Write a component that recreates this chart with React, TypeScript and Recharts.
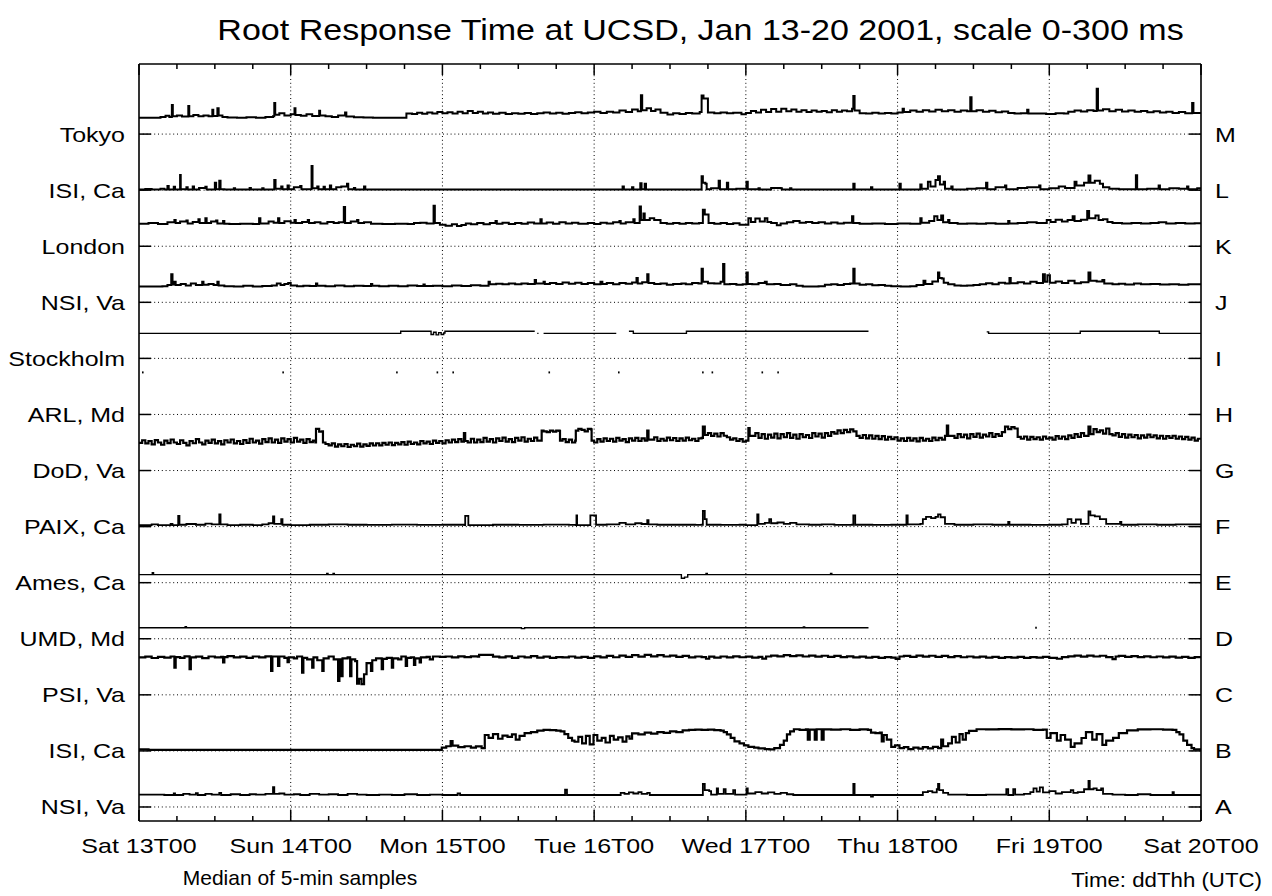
import React from "react";
import { ComposedChart, Line, Scatter, XAxis, YAxis, ReferenceLine } from "recharts";

// ---- axis labels ----
const leftLabels = ["NSI, Va", "ISI, Ca", "PSI, Va", "UMD, Md", "Ames, Ca", "PAIX, Ca", "DoD, Va", "ARL, Md", "Stockholm", "NSI, Va", "London", "ISI, Ca", "Tokyo"];
const rightLabels = ["A", "B", "C", "D", "E", "F", "G", "H", "I", "J", "K", "L", "M"];
const dayLabels = ["Sat 13T00", "Sun 14T00", "Mon 15T00", "Tue 16T00", "Wed 17T00", "Thu 18T00", "Fri 19T00", "Sat 20T00"];
const bandTicks = [1, 2, 3, 4, 5, 6, 7, 8, 9, 10, 11, 12, 13];
const hourTicks = [0, 6, 12, 18, 24, 30, 36, 42, 48, 54, 60, 66, 72, 78, 84, 90, 96, 102, 108, 114, 120, 126, 132, 138, 144, 150, 156, 162, 168];
const dayHours = [24, 48, 72, 96, 120, 144];

// ---- series: [hour since Sat 13T00, median response ms] ----
const tokyoM: [number, number | null][] = [[0,88],[2,88],[3.4,92],[4.2,98],[4.8,92],[5.2,156],[5.35,96],[6,100],[6.8,94],[7.8,150],[7.95,96],[8.6,102],[9.4,95],[10.2,100],[11,95],[11.6,130],[11.75,97],[12.4,138],[12.6,100],[13.2,92],[14,89],[15.5,88],[17,90],[18.5,88],[20,91],[21.2,96],[21.4,167],[21.55,104],[22.2,112],[23,100],[24,106],[24.6,138],[24.75,102],[25.6,98],[26.5,106],[27.4,97],[28.5,125],[28.65,100],[29.5,95],[30.5,92],[31.5,99],[32.6,115],[32.8,94],[34,90],[35.5,89],[37,88],[42.2,88],[42.3,110],[43.2,108],[44,114],[44.8,109],[45.6,116],[46.4,110],[47.2,118],[48,111],[48.8,117],[49.6,110],[50.4,120],[51.2,112],[52,124],[52.8,113],[53.6,120],[54.4,110],[55.2,116],[56,109],[57,114],[58,108],[59,112],[60,109],[61,113],[62,108],[63,112],[64,116],[65,110],[66,114],[67,109],[68,113],[69,117],[70,111],[71,115],[72,119],[73,113],[74,120],[75,115],[76,126],[77,118],[78,132],[78.9,122],[79.4,208],[79.6,128],[80.3,138],[81,124],[81.7,132],[82.5,114],[83.6,105],[84.5,111],[85.5,108],[86.5,113],[87.5,110],[88.7,118],[89,206],[89.3,191],[89.8,191],[90,116],[91,112],[92,116],[93,111],[94,114],[95.3,106],[96,113],[96.8,124],[97.6,116],[98.4,130],[99.2,118],[100,134],[100.8,120],[101.6,136],[102.4,122],[103.2,132],[104,120],[104.8,128],[105.6,118],[106.4,126],[107.2,119],[108,124],[108.8,117],[109.6,128],[110.4,120],[111.2,126],[112,122],[112.8,136],[113,204],[113.2,126],[114,112],[115,110],[116,114],[117,110],[118,113],[119,110],[120,115],[120.8,135],[121,118],[122,126],[123,119],[124,128],[125,121],[126,130],[127,122],[128,127],[129,120],[130,126],[131,122],[131.5,197],[131.7,122],[132.5,128],[133.5,119],[134.5,125],[135.5,117],[136.5,121],[137.5,113],[138.5,110],[139.5,111],[140.5,130],[140.7,110],[142,110],[143.5,108],[145,111],[146.3,110],[147,120],[148,126],[149,121],[150,128],[151,123],[151.5,242],[151.7,126],[152.5,133],[153.5,122],[154.5,130],[155.5,121],[156.5,126],[157.5,119],[158.5,124],[159.5,117],[160.5,122],[161.5,115],[162.5,120],[163.5,113],[164.5,118],[165.5,111],[166.6,167],[166.8,113],[168,110]];

const isiL: [number, number | null][] = [[0,3],[1,6],[2,3],[3.4,8],[4,3],[4.5,22],[4.7,3],[5.5,18],[5.7,3],[6.5,81],[6.6,5],[7.5,15],[7.7,3],[8.5,20],[8.7,3],[9.5,12],[10.5,18],[10.7,3],[12,40],[12.2,5],[12.7,50],[12.9,5],[13.5,3],[15,10],[15.2,3],[17.5,12],[17.7,3],[19.5,10],[19.7,3],[21.4,55],[21.6,8],[22.5,20],[22.7,5],[23.5,25],[23.7,5],[24.5,15],[25.5,22],[25.7,5],[27.3,129],[27.45,10],[28.2,20],[28.4,5],[29.2,18],[29.4,5],[30.2,25],[30.4,5],[31.2,15],[32,20],[32.9,35],[33.1,5],[34,12],[34.2,3],[35.6,20],[35.8,3],[37,3],[76,3],[76.5,20],[76.7,3],[78,15],[78.2,3],[79.3,37],[79.5,5],[80,35],[80.2,3],[88.5,3],[89,75],[89.2,40],[89.6,35],[89.8,5],[90.5,10],[91.7,50],[91.9,5],[93,40],[93.2,5],[94.5,8],[96.1,45],[96.3,5],[98,10],[98.2,3],[100,12],[101.5,10],[101.7,3],[103,10],[103.2,3],[106,3],[113,35],[113.2,3],[115.8,15],[116,3],[120.3,35],[120.5,3],[123.6,30],[123.8,8],[124.8,45],[125.2,20],[126,55],[126.4,75],[126.7,30],[127.3,45],[127.5,8],[128.5,20],[128.7,3],[131,8],[132.5,10],[134,40],[134.2,5],[135.5,15],[137,25],[137.2,5],[139,12],[140.5,15],[142.4,25],[142.6,5],[144,10],[145.5,20],[146.5,12],[148,45],[148.3,25],[149.5,40],[150.2,78],[150.5,40],[151.2,50],[152,35],[152.5,15],[153.5,8],[155,5],[157.7,80],[157.9,5],[159.5,8],[161.3,25],[161.5,5],[163,10],[164.5,8],[165.8,20],[166,5],[167.4,10],[168,3]];

const londonK: [number, number | null][] = [[0,120],[1.5,124],[3,119],[4.5,128],[5.6,140],[5.8,124],[6.5,132],[7.5,138],[7.7,122],[8.5,130],[9.4,145],[9.6,124],[10.5,150],[10.7,124],[11.4,132],[12.2,138],[12.4,122],[13.3,135],[13.5,120],[14.3,119],[16,120],[18,119],[19,150],[19.2,122],[20.5,132],[21.3,126],[22,150],[22.2,124],[23,134],[24,126],[24.6,140],[24.8,124],[25.8,130],[26.7,140],[26.9,124],[27.8,128],[28.7,122],[29.8,130],[30.8,124],[31.6,128],[32.4,210],[32.6,124],[33.5,132],[34.5,140],[34.7,124],[35.6,128],[36.7,120],[38.5,119],[40.5,120],[42.5,119],[43.5,124],[44.5,126],[45.5,122],[46.6,216],[46.8,124],[47.6,115],[48.5,110],[49.5,118],[50.3,108],[51,114],[51.7,122],[52.5,118],[53.5,124],[54.5,118],[55.5,124],[56.4,135],[56.6,120],[57.5,126],[58.5,119],[59.5,125],[60.5,120],[61.5,127],[62.5,121],[63.5,145],[63.7,122],[64.5,127],[65.5,120],[66.5,128],[67.5,121],[68.5,126],[69.5,120],[71,125],[72,119],[73,126],[74,121],[75,128],[76,135],[76.2,122],[77,128],[78.2,145],[78.4,125],[79.2,212],[79.4,140],[79.8,175],[80,140],[80.8,150],[81.5,140],[82.5,125],[83.5,120],[84.5,124],[85.5,120],[86.5,125],[87.5,121],[88.6,125],[89.2,195],[89.5,170],[89.9,170],[90.1,125],[91,120],[92,124],[93,119],[94,123],[95,115],[95.8,115],[96.4,150],[96.8,130],[97.5,148],[98.2,132],[99,150],[99.4,130],[100,124],[100.9,112],[101.5,122],[102.5,128],[103.5,135],[104.5,126],[105.5,130],[106.5,124],[107.5,128],[108.5,122],[109.5,127],[110.5,121],[111.5,126],[112.8,161],[113,124],[114,120],[116,121],[118,119],[120,121],[122,120],[123.6,150],[123.8,126],[125,135],[125.8,160],[126.3,140],[126.9,165],[127.2,128],[128,140],[128.2,124],[129.5,120],[131,122],[132.5,120],[134,123],[135.5,120],[137.5,135],[137.7,122],[139,124],[140.5,128],[142,125],[143.6,140],[144.2,130],[145,142],[146,132],[146.9,140],[147.7,160],[148,135],[149,142],[150,189],[150.3,150],[151.3,165],[151.8,140],[152.5,145],[153.2,130],[154,125],[155.5,122],[157,125],[158.5,121],[160,124],[161.3,128],[162.5,122],[164,125],[165.5,121],[167,123],[168,120]];

const nsiJ: [number, number | null][] = [[0,85],[3.7,86],[4.5,92],[5.1,150],[5.3,95],[5.6,110],[5.8,92],[6.6,98],[7.4,90],[8.2,100],[9,92],[10,110],[10.2,94],[11,98],[11.8,92],[12.4,110],[12.6,90],[13.5,86],[15,85],[16.5,88],[18,85],[19.5,87],[21,90],[21.8,100],[22.4,92],[23,98],[23.6,104],[24,90],[25,86],[26,89],[27,87],[28,100],[28.2,88],[29.5,86],[31,90],[32.5,86],[34,89],[35.5,87],[36.7,98],[36.9,88],[38,86],[39.5,89],[41,86],[42.5,90],[44,87],[45,95],[45.2,87],[46.5,89],[48,86],[49.5,90],[51,87],[52.5,91],[54,88],[55.3,110],[55.5,96],[56.5,99],[57.5,96],[58.5,100],[59.5,97],[60.5,101],[61.5,98],[62.6,120],[62.8,100],[64,110],[64.2,98],[65,104],[66,98],[67,106],[68,99],[69,105],[70,98],[71,103],[72,97],[73,110],[73.3,98],[74,103],[75,97],[76,104],[77,99],[78,106],[78.7,130],[78.9,100],[79.6,108],[80.4,150],[80.6,104],[81.5,98],[82.5,100],[83.5,94],[84.5,98],[85.8,100],[86.5,96],[87.5,104],[88.5,100],[89,180],[89.2,110],[90,102],[91,100],[92,110],[92.4,205],[92.6,96],[93.5,98],[94.5,94],[95.5,96],[96.1,160],[96.3,98],[97,96],[98,104],[99,110],[99.3,96],[100.5,98],[101.5,92],[103,96],[104,88],[105,85],[106,85],[107.5,86],[108.5,94],[109.5,96],[110.5,93],[111.5,98],[112.5,100],[113,180],[113.2,100],[114,94],[115,96],[116,91],[117,93],[118,88],[119,86],[120.5,85],[122,86],[123,92],[124.1,115],[124.4,98],[125.5,112],[126.4,160],[126.6,130],[127,128],[127.3,105],[128,96],[129,90],[130,88],[131,90],[132,93],[133,96],[134,102],[135,96],[136,105],[137,100],[137.7,130],[137.9,102],[139,108],[140,100],[141,110],[142,104],[143,150],[143.3,110],[143.7,145],[144.1,105],[145,112],[146,104],[147,115],[148,102],[149,108],[150.2,160],[150.5,115],[151.5,112],[152.4,120],[152.7,100],[154,96],[155,99],[156,95],[157.4,100],[158.5,96],[160,98],[161.5,95],[163,97],[164.5,94],[166,96],[168,92]];

const stockholmI: [number, number | null][] = [[0,134],[41.4,134],[41.4,145],[46,145],[46.2,128],[46.6,140],[47,126],[47.4,138],[47.8,127],[48.2,136],[48.4,145],[62.6,145],[62.7,null],[63,134],[63.2,134],[63.3,null],[64,134],[75.5,134],[75.6,null],[77.5,145],[78,145],[78.2,134],[86.1,134],[86.6,145],[115.4,145],[115.5,null],[134.1,142],[134.4,134],[148.8,134],[148.9,145],[161.3,145],[161.4,134],[168,134]];

const arlH: [number, number][] = [[0.6,225],[22.8,225],[40.8,225],[47.2,225],[49.7,225],[64.9,225],[75.9,225],[89.2,225],[90.7,225],[98.6,225],[101.1,225]];

const dodG: [number, number | null][] = [[0,148],[0.5,162],[1,145],[1.5,158],[2,140],[2.5,163],[3,150],[3.5,138],[4,160],[4.5,147],[5,166],[5.5,150],[6,142],[6.5,162],[7,148],[7.5,135],[8,158],[8.5,146],[9,168],[9.5,150],[10,140],[10.5,160],[11,148],[11.5,165],[12,145],[12.5,157],[13,140],[13.5,162],[14,150],[14.5,166],[15,145],[15.5,158],[16,142],[16.5,163],[17,148],[17.5,170],[18,150],[18.5,160],[19,144],[19.5,168],[20,152],[20.5,172],[21,150],[21.5,165],[22,148],[22.5,172],[23,155],[23.5,168],[24,150],[24.5,175],[25,155],[25.5,165],[26,148],[26.5,168],[27,152],[27.5,160],[27.9,150],[28,223],[28.5,208],[29,210],[29.1,150],[29.5,142],[30,135],[30.5,145],[31,128],[31.5,140],[32,130],[32.5,142],[33,126],[33.5,138],[34,130],[34.5,144],[35,128],[35.5,140],[36,132],[36.5,145],[37,134],[37.5,146],[38,135],[38.5,148],[39,138],[39.5,150],[40,136],[40.5,148],[41,140],[41.5,152],[42,138],[42.5,155],[43,142],[43.5,150],[44,140],[44.5,158],[45,145],[45.5,155],[46,142],[46.5,160],[47,148],[47.5,158],[48,145],[48.5,162],[49,150],[49.5,165],[50,152],[50.5,168],[51,155],[51.4,200],[51.6,158],[52,150],[52.5,170],[53,150],[53.5,165],[54,152],[54.5,175],[55,155],[55.5,168],[56,150],[56.5,172],[57,158],[57.5,176],[58,155],[58.5,168],[59,152],[59.5,175],[60,160],[60.5,178],[61,155],[61.5,170],[62,158],[62.5,176],[63,160],[63.6,160],[63.7,214],[64,210],[64.5,205],[65,214],[65.5,208],[66,214],[66.5,212],[66.6,160],[67,168],[67.5,152],[68,165],[68.5,150],[69,160],[69.1,214],[69.5,223],[70,218],[70.5,210],[71,223],[71.5,220],[71.6,160],[72,150],[72.5,168],[73,155],[73.5,172],[74,158],[74.5,170],[75,155],[75.5,175],[76,160],[76.5,168],[77,152],[77.5,172],[78,160],[78.5,175],[79,158],[79.5,172],[80,160],[80.4,214],[80.6,165],[81,165],[81.5,178],[82,158],[82.5,170],[83,160],[83.5,176],[84,162],[84.5,174],[85,158],[85.5,172],[86,160],[86.5,176],[87,162],[87.5,170],[88,158],[88.5,172],[89,175],[89.2,235],[89.5,190],[90,200],[90.5,185],[91,198],[91.5,182],[92,200],[92.5,186],[93,178],[93.5,165],[94,172],[94.5,158],[95,168],[95.5,155],[96,160],[96.4,227],[96.6,185],[97,185],[97.5,200],[98,175],[98.5,195],[99,170],[99.5,192],[100,176],[100.5,198],[101,172],[101.5,195],[102,178],[102.5,200],[103,175],[103.5,192],[104,170],[104.5,195],[105,178],[105.5,190],[106,174],[106.5,200],[107,182],[107.5,198],[108,176],[108.5,200],[109,185],[109.5,205],[110,198],[110.5,215],[111,200],[111.5,218],[112,205],[112.5,220],[113,210],[113.5,185],[114,175],[114.5,190],[115,172],[115.5,188],[116,170],[116.5,185],[117,168],[117.5,184],[118,165],[118.5,180],[119,168],[119.5,178],[120,160],[120.5,172],[121,158],[121.5,175],[122,160],[122.5,172],[123,156],[123.5,175],[124,160],[124.5,170],[125,158],[125.5,176],[126,162],[126.5,175],[127,165],[127.5,185],[127.8,240],[128,185],[128.5,185],[129,175],[129.5,195],[130,178],[130.5,192],[131,172],[131.5,195],[132,180],[132.5,198],[133,176],[133.5,192],[134,182],[134.5,200],[135,180],[135.5,195],[136,185],[136.5,205],[137,235],[137.5,222],[138,232],[138.5,225],[139,180],[139.5,170],[140,182],[140.5,165],[141,180],[141.5,168],[142,178],[142.5,165],[143,182],[143.5,170],[144,176],[144.5,165],[145,184],[145.5,170],[146,182],[146.5,168],[147,188],[147.5,175],[148,195],[148.5,180],[149,200],[149.5,185],[150.2,235],[150.5,195],[151,222],[151.5,205],[152,215],[152.5,198],[153,225],[153.5,195],[154,188],[154.5,200],[155,180],[155.5,195],[156,176],[156.5,192],[157,178],[157.5,190],[158,172],[158.5,188],[159,176],[159.5,192],[160,178],[160.5,188],[161,172],[161.5,186],[162,170],[162.5,184],[163,175],[163.5,186],[164,170],[164.5,182],[165,168],[165.5,180],[166,165],[166.5,176],[167,160],[167.5,170],[168,165]];

const paixF: [number, number | null][] = [[0,8],[2,12],[3,8],[5,15],[5.3,8],[6.2,57],[6.4,10],[7.5,14],[9,10],[10.5,16],[11.5,12],[12.7,65],[12.9,12],[14,8],[16,10],[18,8],[19.5,12],[20.5,18],[21.2,55],[21.4,15],[22.5,40],[22.7,10],[24,8],[27,10],[30,12],[33,10],[36,9],[40,11],[44,9],[48,10],[51.5,8],[51.6,57],[52,57],[52.1,8],[56,10],[60,9],[64,11],[68,9],[69.1,8],[69.2,60],[69.3,8],[71.3,8],[71.4,60],[72.2,60],[72.3,10],[74,12],[76,20],[77,12],[78.5,18],[79.5,14],[80.4,35],[80.6,12],[82,10],[85,10],[88,9],[89,10],[89.2,84],[89.5,40],[89.8,10],[92,9],[95,10],[96,8],[97.8,66],[98,15],[99,20],[99.7,40],[100,18],[101,22],[102,15],[103,20],[104,12],[106,10],[108,12],[110,9],[112.8,10],[113,60],[113.3,10],[116,9],[119,10],[121.2,10],[121.4,60],[121.6,12],[123.6,15],[124,40],[124.5,52],[125.3,45],[126,52],[126.4,66],[126.8,50],[127.5,15],[129,10],[132,12],[135,10],[137.5,25],[137.7,10],[141,9],[144,10],[146,12],[146.9,40],[147.5,20],[148.2,38],[149,15],[150.2,81],[150.5,60],[151.2,55],[152,40],[153,15],[155.2,25],[155.4,10],[158,12],[161,10],[164,12],[168,10]];

const amesE: [number, number | null][] = [[0,43],[2,43],[2.1,54],[2.3,43],[29.6,43],[29.7,50],[29.9,43],[30.6,43],[30.7,50],[30.9,43],[85.6,43],[85.8,24],[86.3,30],[86.8,43],[89.6,43],[89.7,50],[89.9,43],[109.3,43],[109.4,50],[109.6,43],[168,43]];

const umdD: [number, number | null][] = [[0,59],[7.2,59],[7.3,65],[7.5,59],[60.2,59],[60.5,54],[61,59],[105,59],[105.1,63],[105.3,59],[115.4,59]];
const umdDots: [number, number][] = [[141.9,59]];

const psiC: [number, number | null][] = [[0,200],[1,204],[2,197],[3,203],[4,199],[5,205],[5.6,146],[5.8,202],[6.5,198],[7.2,206],[8,137],[8.2,200],[9,204],[10,196],[11,205],[12,200],[13,203],[13.3,173],[13.5,202],[14,207],[15,200],[16,204],[17,198],[18,205],[19,200],[20,206],[20.9,128],[21.1,205],[22,155],[22.2,205],[23,198],[23.5,175],[23.7,200],[24.5,195],[25,205],[25.8,119],[26,198],[26.6,190],[27.4,146],[27.6,200],[28.2,185],[29,128],[29.2,195],[30,205],[30.8,190],[31.5,75],[31.7,190],[32,100],[32.2,195],[33,200],[33.4,100],[33.6,190],[34.2,180],[34.5,60],[34.8,85],[35.2,57],[35.6,110],[36,170],[36.7,128],[36.9,185],[37.5,195],[38.4,137],[38.6,192],[39.2,198],[40,146],[40.2,195],[41,190],[41.5,205],[42.2,155],[42.4,198],[43,200],[43.5,160],[43.7,195],[44.4,173],[44.6,200],[45.5,203],[46,190],[46.5,205],[47.6,203],[48.5,205],[49.5,200],[50.5,206],[51.5,202],[52.5,206],[53.6,204],[53.8,214],[55.8,214],[56,204],[57,200],[58,206],[59,198],[60,205],[61,200],[62,207],[63,199],[64,204],[65,198],[66,202],[67,200],[68,205],[69,199],[70,203],[71,198],[72,206],[73,200],[74,208],[75,201],[76,210],[77,203],[78,212],[79,204],[80,214],[81,206],[82,212],[83,205],[84,210],[85,203],[86,208],[87,200],[88,205],[89,202],[89.7,193],[90.2,204],[91,199],[92,205],[93,200],[94,206],[95,201],[96,204],[97,199],[98,203],[98.6,194],[99.2,205],[100,210],[101,206],[102,212],[103,207],[104,211],[105,205],[106,210],[107,204],[108,209],[109,203],[110,208],[111,202],[112,206],[113,200],[114,204],[115,199],[116,203],[117,198],[118,202],[119,199],[119.7,192],[120.3,205],[121,208],[122,203],[123,210],[124,204],[125,209],[126,203],[127,208],[128,202],[129,207],[130,201],[131,205],[132,200],[133,204],[134,199],[135,203],[136,198],[137,202],[138,199],[139,203],[140,198],[141,202],[142,199],[143,203],[144,198],[145.2,193],[146,202],[147,206],[148,210],[149,204],[150,210],[151,205],[152,209],[153,202],[154,191],[154.5,205],[155,208],[156,203],[157,207],[158,202],[159,206],[160,201],[161,205],[162,200],[163,204],[164,199],[165,203],[166,198],[167,202],[168,200]];

const isiB: [number, number | null][] = [[0,8],[1.5,6],[3,5],[47.6,5],[47.9,18],[48.6,25],[49.3,53],[49.6,28],[50.5,20],[51.5,25],[52.5,18],[53.3,24],[54.2,15],[54.7,85],[55.3,70],[56,90],[56.8,65],[57.5,82],[58.3,75],[59,88],[59.6,60],[60.2,80],[61,95],[62,100],[63,108],[64,112],[65,111],[66,108],[66.7,105],[67.3,90],[67.9,70],[68.5,55],[68.9,49],[69.5,75],[70.1,40],[70.7,80],[71.3,35],[71.9,85],[72.5,55],[73.2,70],[73.8,45],[74.5,80],[75.1,60],[75.8,72],[76.5,50],[77.1,78],[77.6,65],[78,94],[79,88],[80,98],[81,92],[82,100],[83,96],[84,104],[85,100],[86,110],[87,113],[88,114],[89,112],[90,114],[91,111],[92,108],[92.5,100],[93,88],[93.6,70],[94.2,51],[95,40],[95.7,30],[96.4,22],[97.3,18],[98,14],[99,10],[99.7,8],[100.5,15],[101.4,32],[102,55],[102.5,88],[103,105],[103.6,116],[104.5,112],[105.5,116],[105.8,60],[106.1,114],[106.9,60],[107.2,116],[108,60],[108.3,115],[109.5,114],[111,116],[112.5,113],[114,115],[115.3,112],[115.8,98],[116.5,95],[117.2,98],[117.5,51],[117.8,85],[118.3,60],[119,22],[119.6,30],[120.3,15],[121,20],[121.7,10],[122.5,18],[123.3,12],[124,20],[124.8,14],[125.6,22],[126.4,15],[126.9,60],[127.2,25],[128,40],[128.6,75],[129.2,45],[129.8,90],[130.3,60],[130.8,95],[131.3,107],[132.5,116],[134,115],[136,117],[138,115],[140,116],[141.5,112],[143,114],[143.6,69],[144.2,95],[145.2,55],[145.8,85],[146.5,60],[147.4,22],[148,40],[149.1,69],[149.8,100],[150.8,60],[151.5,90],[152.4,32],[153,55],[154.1,70],[155,95],[156.3,110],[158,115],[160,116],[162,114],[163.5,112],[164.1,100],[164.6,88],[165.2,55],[165.8,32],[166.5,15],[166.9,8],[168,8]];

const nsiA: [number, number | null][] = [[0,66],[4,64],[5.5,72],[5.7,64],[7,70],[8,66],[9,74],[9.3,64],[10.5,70],[11.5,66],[12.7,75],[13,64],[14.5,68],[16,64],[17.5,68],[18.5,66],[20,70],[21.2,106],[21.4,70],[22.2,72],[23,66],[24.5,68],[25.5,64],[27,70],[28.5,66],[30,68],[31.5,64],[33,70],[34.5,66],[36,64],[38,66],[40,64],[42,68],[44,64],[46,66],[48,64],[50.4,72],[50.8,64],[67,64],[67.4,93],[67.7,64],[75.5,64],[76.2,75],[76.8,70],[77.5,78],[78.2,72],[79,80],[79.5,70],[80.4,75],[80.8,64],[88.8,64],[89.2,124],[89.5,90],[90.2,85],[90.5,66],[91.4,100],[91.6,70],[92.5,95],[92.8,70],[94,90],[94.3,66],[96.1,100],[96.3,72],[97.5,80],[98.5,72],[99.5,78],[100.5,70],[101.5,75],[102.5,68],[103.5,64],[112.8,64],[113,124],[113.2,64],[115.5,64],[115.8,55],[116.1,64],[123.5,64],[124,80],[124.8,85],[125.5,78],[126.2,95],[126.4,124],[126.6,90],[127.2,75],[128,66],[131,64],[134,66],[137.2,95],[137.5,64],[138.3,95],[138.6,66],[140,70],[141,80],[141.5,100],[142,82],[142.5,105],[143,78],[144,85],[145,72],[146,80],[147.4,90],[147.8,75],[148.5,80],[149.5,95],[150.2,139],[150.4,95],[151,100],[151.5,90],[152.2,100],[152.5,70],[154,66],[156,64],[158,68],[160,64],[163.5,80],[163.7,64],[166,64],[168,64]];

// each band (gridline) spans 0-300 ms
const toPts = (arr: [number, number | null][], band: number) =>
  arr.map(([h, ms]) => ({ h, v: ms === null ? null : band + ms / 300 }));

const series = [
  { band: 13, data: tokyoM, w: 2, t: "stepAfter" },
  { band: 12, data: isiL, w: 2, t: "stepAfter" },
  { band: 11, data: londonK, w: 2, t: "stepAfter" },
  { band: 10, data: nsiJ, w: 2, t: "stepAfter" },
  { band: 9, data: stockholmI, w: 1.4, t: "stepAfter" },
  { band: 7, data: dodG, w: 2.2, t: "stepAfter" },
  { band: 6, data: paixF, w: 1.8, t: "stepAfter" },
  { band: 5, data: amesE, w: 1.4, t: "stepAfter" },
  { band: 4, data: umdD, w: 1.4, t: "stepAfter" },
  { band: 3, data: psiC, w: 2.2, t: "stepAfter" },
  { band: 2, data: isiB, w: 2.2, t: "stepAfter" },
  { band: 1, data: nsiA, w: 1.8, t: "stepAfter" },
];

const FONT = "'Liberation Sans', Arial, Helvetica, sans-serif";
const FS = 21;
const SX = 1.19;

const LeftTick = (props: any) => {
  const { x, y, payload } = props;
  return (
    <g>
      <line x1={x} y1={y} x2={x + 12} y2={y} stroke="#000" strokeWidth={1.5} />
      <text transform={`translate(${x - 14},${y + 7.5}) scale(${SX},1)`} textAnchor="end" fontFamily={FONT} fontSize={FS} fill="#000">
        {leftLabels[payload.value - 1]}
      </text>
    </g>
  );
};

const RightTick = (props: any) => {
  const { x, y, payload } = props;
  return (
    <g>
      <line x1={x} y1={y} x2={x - 12} y2={y} stroke="#000" strokeWidth={1.5} />
      <text transform={`translate(${x + 14},${y + 7.5}) scale(${SX},1)`} textAnchor="start" fontFamily={FONT} fontSize={FS} fill="#000">
        {rightLabels[payload.value - 1]}
      </text>
    </g>
  );
};

const BottomTick = (props: any) => {
  const { x, y, payload } = props;
  const major = payload.value % 24 === 0;
  return (
    <g>
      <line x1={x} y1={y} x2={x} y2={y - (major ? 11 : 5)} stroke="#000" strokeWidth={1.5} />
      {major && (
        <text transform={`translate(${x},${y + 32}) scale(${SX},1)`} textAnchor="middle" fontFamily={FONT} fontSize={FS} fill="#000">
          {dayLabels[payload.value / 24]}
        </text>
      )}
    </g>
  );
};

const TopTick = (props: any) => {
  const { x, y, payload } = props;
  const major = payload.value % 24 === 0;
  return <line x1={x} y1={y} x2={x} y2={y + (major ? 11 : 5)} stroke="#000" strokeWidth={1.5} />;
};

const TinyDot = (props: any) => {
  const { cx, cy } = props;
  if (cx == null || cy == null) return null;
  return <rect x={cx - 0.8} y={cy - 1} width={1.6} height={2} fill="#000" />;
};

const W = 1264;
const H = 888;

export default function App() {
  return (
    <div style={{ position: "relative", width: W, height: H }}>
      <ComposedChart width={W} height={H} margin={{ top: 55, right: 0, bottom: 0, left: 0 }}>
        <XAxis xAxisId="b" dataKey="h" type="number" domain={[0, 168]} ticks={hourTicks} interval={0} tickSize={0} tickMargin={0} tick={<BottomTick />} height={75} axisLine={{ stroke: "#000", strokeWidth: 1.6 }} tickLine={false} allowDataOverflow />
        <XAxis xAxisId="t" orientation="top" dataKey="h" type="number" domain={[0, 168]} ticks={hourTicks} interval={0} tickSize={0} tickMargin={0} tick={<TopTick />} height={1} axisLine={{ stroke: "#000", strokeWidth: 1.6 }} tickLine={false} allowDataOverflow />
        <YAxis yAxisId="l" type="number" domain={[0.75, 14.25]} ticks={bandTicks} interval={0} tickSize={0} tickMargin={0} tick={<LeftTick />} width={131} axisLine={{ stroke: "#000", strokeWidth: 1.6 }} tickLine={false} allowDataOverflow />
        <YAxis yAxisId="r" orientation="right" type="number" domain={[0.75, 14.25]} ticks={bandTicks} interval={0} tickSize={0} tickMargin={0} tick={<RightTick />} width={71} axisLine={{ stroke: "#000", strokeWidth: 1.6 }} tickLine={false} allowDataOverflow />
        {bandTicks.map((b) => (
          <ReferenceLine key={"gy" + b} xAxisId="b" yAxisId="l" y={b} stroke="#000" strokeWidth={1} strokeDasharray="1 2.8" />
        ))}
        {dayHours.map((d) => (
          <ReferenceLine key={"gx" + d} xAxisId="b" yAxisId="l" x={d} stroke="#000" strokeWidth={1} strokeDasharray="1 2.8" />
        ))}
        {series.map((s, i) => (
          <Line key={"s" + i} xAxisId="b" yAxisId="l" data={toPts(s.data, s.band)} dataKey="v" type={s.t as any} stroke="#000" strokeWidth={s.w} dot={false} activeDot={false} isAnimationActive={false} connectNulls={false} />
        ))}
        <Scatter xAxisId="b" yAxisId="l" data={toPts(arlH, 8)} dataKey="v" shape={<TinyDot />} isAnimationActive={false} />
        <Scatter xAxisId="b" yAxisId="l" data={toPts(umdDots, 4)} dataKey="v" shape={<TinyDot />} isAnimationActive={false} />
      </ComposedChart>
      <svg width={W} height={H} style={{ position: "absolute", left: 0, top: 0, pointerEvents: "none" }}>
        <text transform={`translate(692.5,32) scale(${SX},1)`} textAnchor="middle" fontFamily={FONT} fontSize={28.6} fill="#000">
          Root Response Time at UCSD, Jan 13-20 2001, scale 0-300 ms
        </text>
        <text transform="translate(292,877)" textAnchor="middle" fontFamily={FONT} fontSize={FS} fill="#000">
          Median of 5-min samples
        </text>
        <text transform="translate(1254,879) scale(1.06,1)" textAnchor="end" fontFamily={FONT} fontSize={FS} fill="#000">
          Time: ddThh (UTC)
        </text>
      </svg>
    </div>
  );
}
